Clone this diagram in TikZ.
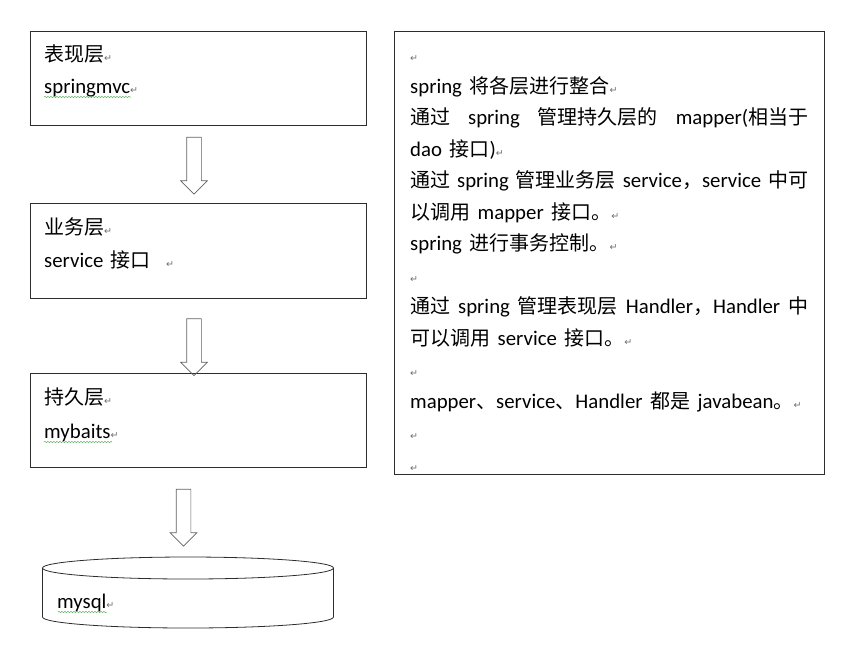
\documentclass[tikz,border=0pt]{standalone}
\usepackage{fontspec}
\setmainfont{Carlito}[Scale=1.04, WordSpace=1.6]
\newfontfamily\cjk{Noto Sans CJK SC}
\newfontfamily\dejavu{DejaVu Sans}
\usetikzlibrary{shapes.arrows,decorations.pathmorphing}
\definecolor{pmgray}{RGB}{110,110,110}
\definecolor{frame}{RGB}{45,45,45}
\definecolor{squig}{RGB}{90,175,90}
\newcommand\zh[1]{{\cjk #1}}
\newcommand\pmk{{\dejavu\fontsize{9.5}{9.5}\selectfont\color{pmgray}↵}}
\newcommand\jline[1]{\makebox[398pt][s]{#1}}
\tikzset{
  layer/.style={
    draw=frame, line width=1pt, rectangle, inner sep=0pt,
    minimum width=336pt, minimum height=94pt
  },
  note/.style={
    draw=frame, line width=1pt, rectangle, inner sep=0pt,
    minimum width=430pt, minimum height=443pt
  },
  txt/.style={anchor=base west, inner sep=0pt, font=\fontsize{20}{20}\selectfont},
  down/.style={
    draw=frame!75, line width=0.7pt, single arrow, rotate=-90,
    inner xsep=0pt, inner ysep=7pt, minimum height=57pt,
    single arrow head extend=6pt
  },
  wavy/.style={
    squig, line width=0.5pt, decorate,
    decoration={snake, amplitude=0.6pt, segment length=3pt}
  },
}
\begin{document}
\begin{tikzpicture}[x=1pt, y=-1pt]
  \useasboundingbox (0,0) rectangle (861,665);
  % three layers
  \node[layer] (web) at (198,78) {};
  \node[layer, minimum height=95pt] (biz) at (198,250.5) {};
  \node[layer] (dao) at (198,420) {};
  \node[txt] (webname) at (44,61) {\zh{表现层}\pmk};
  \node[txt] (webtech) at (44,93) {springmvc\pmk};
  \node[txt] (bizname) at (44,234) {\zh{业务层}\pmk};
  \node[txt] (biztech) at (44,267) {service \zh{接口}\ \ \pmk};
  \node[txt] (daoname) at (44,404) {\zh{持久层}\pmk};
  \node[txt] (daotech) at (44,438) {mybaits\pmk};
  \draw[wavy] (44,97) -- (131,97);
  \draw[wavy] (44,442) -- (112,442);
  % arrows between layers
  \node[down] (web2biz) at (194,162) {};
  \node[down] (biz2dao) at (194,343.5) {};
  \node[down] (dao2db) at (183.5,514) {};
  % database
  \draw[frame, line width=0.8pt] (188,568) ellipse [x radius=145.5, y radius=11];
  \draw[frame, line width=0.8pt] (42.5,568) -- (42.5,617)
    arc[start angle=180, end angle=0, x radius=145.5, y radius=11] -- (333.5,568);
  \node[txt] (db) at (57,608) {mysql\pmk};
  \draw[wavy] (58,612) -- (107,612);
  % spring note
  \node[note] (spring) at (609,252.5) {};
  \node[txt] (n0) at (410,61.5) {\pmk};
  \node[txt] (n1) at (410,93) {spring \zh{将各层进行整合}\pmk};
  \node[txt] (n2) at (410,124.5) {\jline{\zh{通过} spring \zh{管理持久层的} mapper(\zh{相当于}}};
  \node[txt] (n3) at (410,156) {dao \zh{接口})\pmk};
  \node[txt] (n4) at (410,187.5) {\jline{\zh{通过} spring \zh{管理业务层} service\zh{，}service \zh{中可}}};
  \node[txt] (n5) at (410,219) {\zh{以调用} mapper \zh{接口。}\pmk};
  \node[txt] (n6) at (410,250.5) {spring \zh{进行事务控制。}\pmk};
  \node[txt] (n7) at (410,282) {\pmk};
  \node[txt] (n8) at (410,313.5) {\jline{\zh{通过} spring \zh{管理表现层} Handler\zh{，}Handler \zh{中}}};
  \node[txt] (n9) at (410,345) {\zh{可以调用} service \zh{接口。}\pmk};
  \node[txt] (n10) at (410,376.5) {\pmk};
  \node[txt] (n11) at (410,408) {mapper\zh{、}service\zh{、}Handler \zh{都是} javabean\zh{。}\pmk};
  \node[txt] (n12) at (410,439.5) {\pmk};
  \node[txt] (n13) at (410,471) {\pmk};
\end{tikzpicture}
\end{document}
